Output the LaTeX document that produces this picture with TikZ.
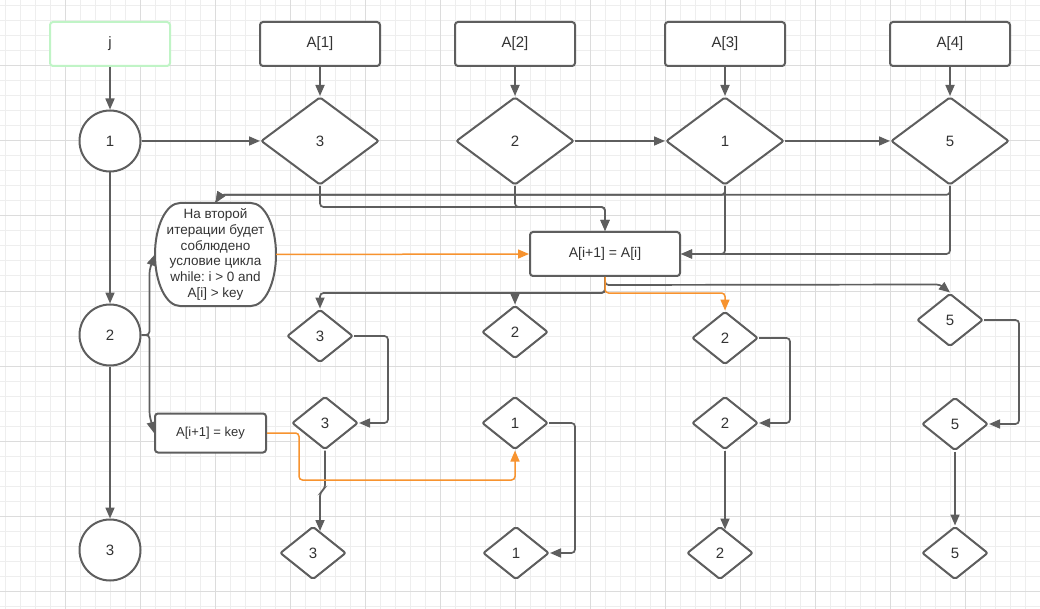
\documentclass[tikz,border=0pt]{standalone}
\usepackage{fontspec}
\setmainfont{Liberation Sans}
\usetikzlibrary{shapes.geometric,arrows.meta,calc}
\definecolor{linegray}{HTML}{5E5E5E}
\definecolor{textgray}{HTML}{333333}
\definecolor{flow}{HTML}{F7932F}
\definecolor{gridlight}{HTML}{EEEEEE}
\definecolor{griddark}{HTML}{DCDCDC}
\definecolor{keygreen}{HTML}{C0F4C6}
\frenchspacing
\begin{document}
\begin{tikzpicture}[x=1pt,y=-1pt,
  lbl/.style={text=textgray,font=\fontsize{15}{18}\selectfont},
  valbox/.style={lbl,draw=linegray,line width=2pt,rounded corners=3pt,fill=white,
    minimum width=120pt,minimum height=44pt,inner sep=0pt},
  keybox/.style={valbox,draw=keygreen},
  stepcirc/.style={lbl,circle,draw=linegray,line width=2pt,fill=white,minimum size=61pt,inner sep=0pt},
  bigdia/.style={lbl,diamond,draw=linegray,line width=2pt,rounded corners=2pt,fill=white,
    minimum width=118pt,minimum height=88pt,inner sep=0pt},
  smalldia/.style={lbl,diamond,draw=linegray,line width=2pt,rounded corners=2pt,fill=white,
    minimum width=66pt,minimum height=53pt,inner sep=0pt},
  opbox/.style={lbl,draw=linegray,line width=2pt,rounded corners=3pt,fill=white,inner sep=0pt},
  conn/.style={draw=linegray,line width=1.7pt,rounded corners=3.5pt,-{Triangle[length=11pt,width=9pt]}},
  flowconn/.style={draw=flow,line width=1.5pt,rounded corners=3.5pt,-{Triangle[length=11pt,width=9pt]}}
]
\useasboundingbox (0,0) rectangle (1040,609);
% background grid
\fill[white] (0,0) rectangle (1040,609);
\foreach \k in {0,...,68} \draw[gridlight,line width=1pt] ({5.7+15*\k},0) -- ++(0,609);
\foreach \k in {0,...,40} \draw[gridlight,line width=1pt] (0,{6+15*\k}) -- ++(1040,0);
\foreach \k in {0,...,12} \draw[griddark,line width=1pt] ({65.7+75*\k},0) -- ++(0,609);
\foreach \k in {0,...,7} \draw[griddark,line width=1pt] (0,{66+75*\k}) -- ++(1040,0);

% header row
\node[keybox] (j) at (110,44) {j};
\node[valbox] (a1) at (320,44) {A[1]};
\node[valbox] (a2) at (515,44) {A[2]};
\node[valbox] (a3) at (725,44) {A[3]};
\node[valbox] (a4) at (950,44) {A[4]};

% loop counter
\node[stepcirc] (c1) at (110,141) {1};
\node[stepcirc] (c2) at (110,335) {2};
\node[stepcirc] (c3) at (110,550) {3};

% initial array
\node[bigdia] (d1) at (320,141) {3};
\node[bigdia] (d2) at (515,141) {2};
\node[bigdia] (d3) at (725,141) {1};
\node[bigdia] (d4) at (950,141) {5};

% comment and assignments
\node[minimum width=121pt,minimum height=103pt,inner sep=0pt] (note) at (215.5,254.5) {};
\begin{scope}[shift={(note.center)}]
  \draw[linegray,line width=2pt,fill=white]
    (-35.5,-51.5) -- (35.5,-51.5)
    .. controls (49.3,-51.5) and (60.5,-28.5) .. (60.5,0)
    .. controls (60.5,28.5) and (49.3,51.5) .. (35.5,51.5)
    -- (-35.5,51.5)
    .. controls (-49.3,51.5) and (-60.5,28.5) .. (-60.5,0)
    .. controls (-60.5,-28.5) and (-49.3,-51.5) .. (-35.5,-51.5) -- cycle;
\end{scope}
\node[text=textgray,font=\fontsize{13.5}{15.7}\selectfont,align=center] at (note.center)
  {На второй\\итерации будет\\соблюдено\\условие цикла\\while: i > 0 and\\A[i] > key};
\node[opbox,minimum width=150pt,minimum height=44pt,font=\fontsize{14}{17}\selectfont] (b1) at (605,254) {A[i+1] = A[i]};
\node[opbox,minimum width=111pt,minimum height=39pt,font=\fontsize{13}{16}\selectfont] (b2) at (210.5,433) {A[i+1] = key};

% second pass
\node[smalldia] (r2c1) at (320,336) {3};
\node[smalldia] (r2c2) at (515,332) {2};
\node[smalldia] (r2c3) at (725,338) {2};
\node[smalldia] (r2c4) at (950,320) {5};

\node[smalldia] (r3c1) at (325,423) {3};
\node[smalldia] (r3c2) at (515,423) {1};
\node[smalldia] (r3c3) at (725,423) {2};
\node[smalldia] (r3c4) at (955,424) {5};

\node[smalldia] (r4c1) at (313,553) {3};
\node[smalldia] (r4c2) at (516,553) {1};
\node[smalldia] (r4c3) at (720,553) {2};
\node[smalldia] (r4c4) at (955,553) {5};

% header connectors
\draw[conn] (j) -- (c1);
\draw[conn] (a1) -- (d1);
\draw[conn] (a2) -- (d2);
\draw[conn] (a3) -- (d3);
\draw[conn] (a4) -- (d4);
\draw[conn] (c1) -- (d1);
\draw[conn] (d2) -- (d3);
\draw[conn] (d3) -- (d4);
\draw[conn] (c1) -- (c2);
\draw[conn] (c2) -- (c3);

% first pass connectors
\draw[conn] (d4.south) |- ($(note.north)+(5,-8)$) -- (note.north);
\draw[conn] (d3.south) |- ($(note.north)+(5,-8)$) -- (note.north);
\draw[conn] (d1.south) |- ($(b1.north)+(0,-24)$) -- (b1.north);
\draw[conn] (d2.south) |- ($(b1.north)+(0,-24)$) -- (b1.north);
\draw[conn] (d3.south) |- (b1.east);
\draw[conn] (d4.south) |- (b1.east);
\draw[flowconn] (note.east) -- (b1.west);
\draw[conn] (c2.east) -- ++(8,0) -- ++(0,-65) -- (note.west);
\draw[conn] (c2.east) -- ++(8,0) -- ++(0,80) -- (b2.west);

% second pass connectors
\draw[conn] (b1.south) -- ++(0,16) -| (r2c1.north);
\draw[conn] (b1.south) -- ++(0,16) -| (r2c2.north);
\draw[conn] (b1.south) -- ++(0,8) -- ($(r2c4.north)+(-10,-8)$) -- (r2c4.north);
\draw[flowconn] (b1.south) -- ++(0,16) -| (r2c3.north);

\draw[conn] (r2c1.east) -- ++(34,0) |- (r3c1.east);
\draw[conn] (r2c3.east) -- ++(31,0) |- (r3c3.east);
\draw[conn] (r2c4.east) -- ++(35,0) |- (r3c4.east);
\draw[conn] (r3c2.east) -- ++(26,0) |- (r4c2.east);

\draw[conn] (r3c1.south) -- ++(0,38) -- ++(-5,4) -- ($(r4c1.north)+(7,5.5)$);
\draw[conn] (r3c3.south) -- ($(r4c3.north)+(5,4)$);
\draw[conn] (r3c4) -- (r4c4);
\draw[flowconn] (b2.east) -- ++(32,0) -- ++(0,47) -| (r3c2.south);
\end{tikzpicture}
\end{document}
